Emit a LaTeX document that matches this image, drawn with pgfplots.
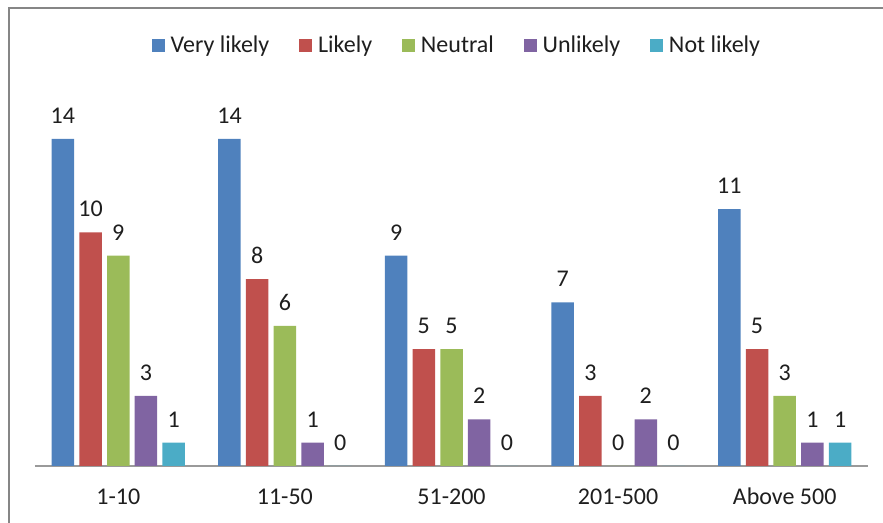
\documentclass[border=0pt]{standalone}
\usepackage{fontspec}
\setmainfont{Carlito}
\usepackage{pgfplots}
\pgfplotsset{compat=1.18}

\definecolor{cVery}{HTML}{4F81BD}
\definecolor{cLikely}{HTML}{C0504D}
\definecolor{cNeutral}{HTML}{9BBB59}
\definecolor{cUnlikely}{HTML}{8064A2}
\definecolor{cNot}{HTML}{4BACC6}
\definecolor{framegray}{HTML}{868686}
\definecolor{basegray}{HTML}{9A9A9A}
\definecolor{txt}{HTML}{1E1E1E}

\newcommand\chartfont{\fontsize{12}{14}\selectfont}

\pgfplotsset{
  sq legend/.style={legend image code/.code={\fill[##1] (0pt,-3.2pt) rectangle (6.4pt,3.2pt);}},
}

\begin{document}
\begin{tikzpicture}
% page: 1px = 0.5pt, origin at the left end of the category axis
\path[use as bounding box] (-17.5pt,-28.5pt) rectangle (424pt,233pt);
\begin{axis}[
  scale only axis,
  width=416.5pt, height=186.9pt,
  xmin=-0.5, xmax=4.5, ymin=0, ymax=16,
  ybar=2.6pt, bar width=11.25pt,
  axis x line=bottom, axis y line=none,
  x axis line style={-, draw=basegray, line width=0.75pt},
  xtick={0,1,2,3,4},
  xticklabels={1-10,11-50,51-200,201-500,Above 500},
  major tick length=0pt,
  xticklabel style={font=\chartfont, text=txt, anchor=base, yshift=-19.5pt},
  ytick=\empty,
  /pgf/number format/assume math mode=true,
  nodes near coords,
  every node near coord/.append style={font=\chartfont, text=txt, anchor=base, yshift=7.75pt},
  legend columns=-1,
  legend style={draw=none, fill=none, at={(0.5054,1.125)}, anchor=center,
    font=\chartfont, text=txt,
    nodes={inner sep=0pt},
    /tikz/every odd column/.append style={column sep=3pt},
    /tikz/every even column/.append style={column sep=15pt}},
]
\addplot[fill=cVery, draw=none, sq legend]
  coordinates {(0,14) (1,14) (2,9) (3,7) (4,11)};
\addplot[fill=cLikely, draw=none, sq legend]
  coordinates {(0,10) (1,8) (2,5) (3,3) (4,5)};
\addplot[fill=cNeutral, draw=none, sq legend]
  coordinates {(0,9) (1,6) (2,5) (3,0) (4,3)};
\addplot[fill=cUnlikely, draw=none, sq legend]
  coordinates {(0,3) (1,1) (2,2) (3,2) (4,1)};
\addplot[fill=cNot, draw=none, sq legend]
  coordinates {(0,1) (1,0) (2,0) (3,0) (4,1)};
\legend{Very likely, Likely, Neutral, Unlikely, Not likely}
\end{axis}
% chart frame (top and left edges)
\draw[framegray, line width=1.1pt] (-13.1pt,-28.5pt) -- (-13.1pt,229.1pt) -- (424pt,229.1pt);
\end{tikzpicture}
\end{document}
